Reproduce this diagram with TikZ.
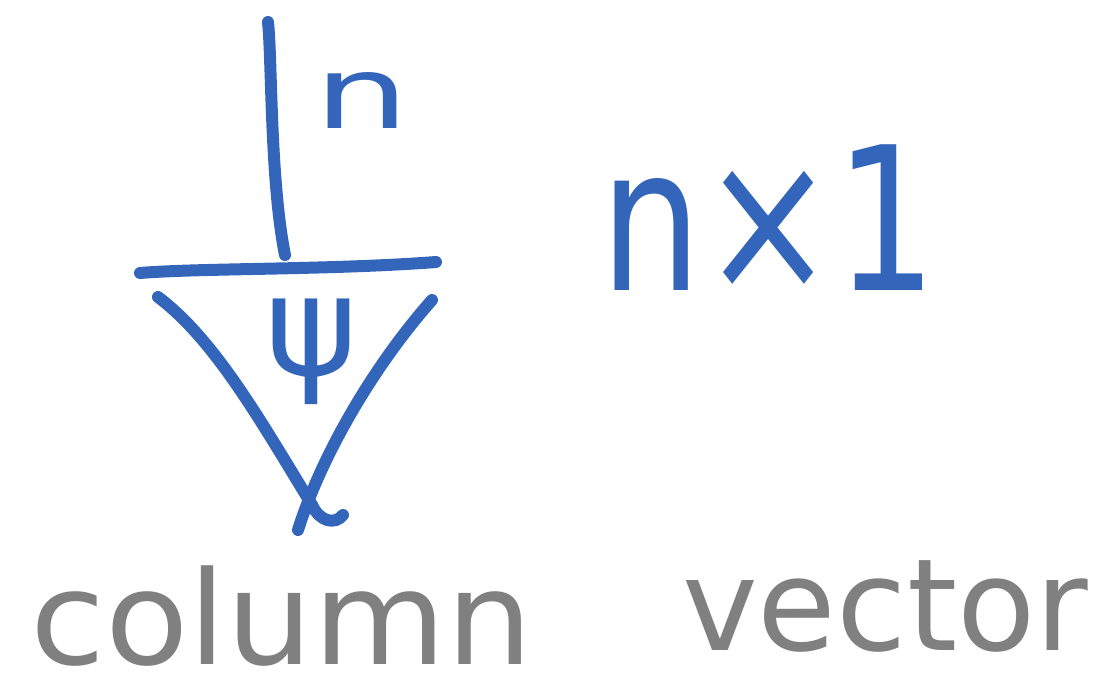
\documentclass[tikz,border=0pt]{standalone}
\usepackage{fontspec}
\setmainfont{DejaVu Sans}
\definecolor{inkblue}{HTML}{3366BB}
\definecolor{inkgrey}{HTML}{808080}
\begin{document}
\begin{tikzpicture}[x=1pt,y=-1pt,
  stroke/.style={draw=inkblue,line width=12pt,line cap=round,line join=round},
  bluetext/.style={text=inkblue,inner sep=0pt},
  greytext/.style={text=inkgrey,inner sep=0pt,anchor=base west}]
\useasboundingbox (0,0) rectangle (1119,696);
% tensor leg
\coordinate (legtop) at (268,22);
\coordinate (legbot) at (285,255);
\draw[stroke] (legtop) .. controls (272,60) and (270,180) .. (legbot);
% bar
\coordinate (barL) at (140,273);
\coordinate (barR) at (436,262);
\draw[stroke] (barL) .. controls (200,268) and (330,270) .. (barR);
% triangle sides
\coordinate (leftTop) at (158,297);
\coordinate (leftBot) at (312,505);
\coordinate (rightTop) at (432,300);
\coordinate (rightBot) at (298,530);
\coordinate (hookEnd) at (343,515);
\draw[stroke] (leftTop) .. controls (215,340) and (260,420) .. (leftBot);
\draw[stroke] (rightTop) .. controls (370,370) and (320,460) .. (rightBot);
\draw[stroke] (leftBot) .. controls (320,522) and (335,525) .. (hookEnd);
% labels
\node[bluetext,font=\fontsize{100}{100}\selectfont,xscale=1.5] (nlab) at (362,100) {n};
\node[bluetext,font=\fontsize{140}{140}\selectfont] (psi) at (312,352) {ψ};
\node[bluetext,font=\fontsize{200}{200}\selectfont,xscale=0.8,anchor=base west] (dim) at (600,290) {n×1};
\node[greytext,font=\fontsize{130}{130}\selectfont,xscale=1.05] (col) at (30,664) {column};
\node[greytext,font=\fontsize{128}{128}\selectfont] (vec) at (682,650) {vector};
\end{tikzpicture}
\end{document}
